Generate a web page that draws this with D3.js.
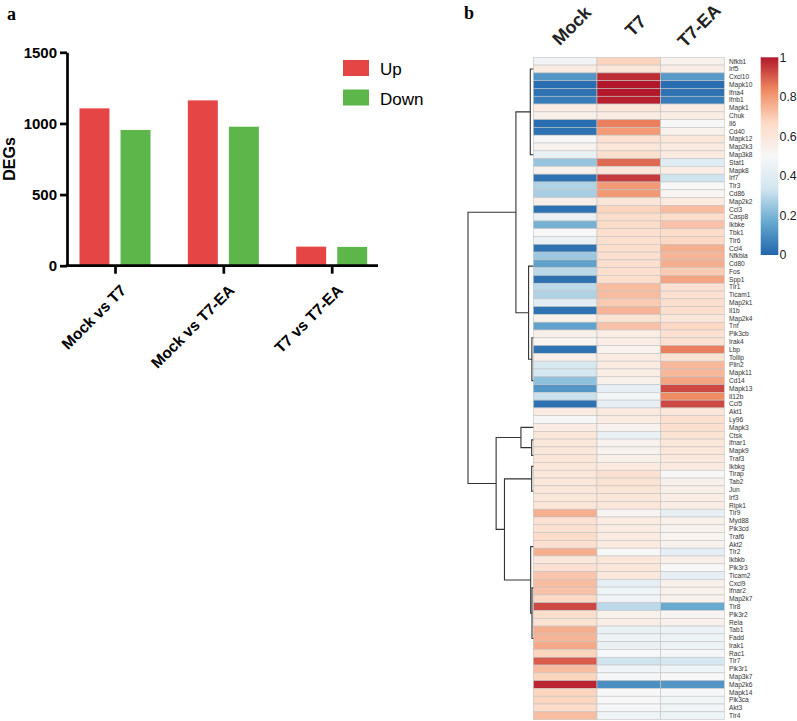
<!DOCTYPE html>
<html><head><meta charset="utf-8">
<script src="https://cdn.jsdelivr.net/npm/d3@7"></script>
<style>body{margin:0;background:#fff} svg{display:block}</style>
</head><body>
<svg id="chart" width="797" height="721"></svg>
<script>
// ---------- Panel a data ----------
const comparisons = ["Mock vs T7", "Mock vs T7-EA", "T7 vs T7-EA"];
const directions = ["Up", "Down"];
const upDEGs = [1106, 1162, 134];
const downDEGs = [954, 977, 132];
const degTicks = [0, 500, 1000, 1500];
const dirColors = ["#e64546", "#5db649"];

// ---------- Panel b data ----------
const samples = ["Mock", "T7", "T7-EA"];
const genes = ["Nfkb1","Irf5","Cxcl10","Mapk10","Ifna4","Ifnb1","Mapk1","Chuk","Il6","Cd40","Mapk12","Map2k3","Map3k8","Stat1","Mapk8","Irf7","Tlr3","Cd86","Map2k2","Ccl3","Casp8","Ikbke","Tbk1","Tlr6","Ccl4","Nfkbia","Cd80","Fos","Spp1","Tlr1","Ticam1","Map2k1","Il1b","Map2k4","Tnf","Pik3cb","Irak4","Lbp","Tollip","Plin2","Mapk11","Cd14","Mapk13","Il12b","Ccl5","Akt1","Ly96","Mapk3","Ctsk","Ifnar1","Mapk9","Traf3","Ikbkg","Tirap","Tab2","Jun","Irf3","Ripk1","Tlr9","Myd88","Pik3cd","Traf6","Akt2","Tlr2","Ikbkb","Pik3r3","Ticam2","Cxcl9","Ifnar2","Map2k7","Tlr8","Pik3r2","Rela","Tab1","Fadd","Irak1","Rac1","Tlr7","Pik3r1","Map3k7","Map2k6","Mapk14","Pik3ca","Akt3","Tlr4"];
const mockVals = [0.47,0.57,0.12,0.02,0.03,0.06,0.57,0.55,0.02,0.03,0.49,0.53,0.44,0.24,0.54,0.03,0.28,0.27,0.55,0.03,0.44,
  0.19,0.5,0.44,0.03,0.25,0.15,0.3,0.03,0.3,0.28,0.41,0.03,0.54,0.15,0.55,0.52,0.03,0.55,0.36,0.35,0.23,
  0.12,0.32,0.03,0.57,0.49,0.57,0.6,0.6,0.6,0.61,0.6,0.6,0.6,0.6,0.6,0.61,0.76,0.63,0.63,0.66,0.64,0.76,
  0.59,0.63,0.71,0.73,0.72,0.67,0.93,0.65,0.62,0.76,0.75,0.77,0.68,0.9,0.73,0.68,0.98,0.68,0.68,0.66,0.73];
const t7Vals = [0.68,0.6,0.97,1,1,0.99,0.6,0.57,0.85,0.8,0.63,0.6,0.64,0.88,0.6,0.95,0.8,0.8,0.6,0.68,0.65,
  0.66,0.64,0.64,0.65,0.64,0.64,0.64,0.65,0.73,0.73,0.7,0.75,0.62,0.72,0.56,0.56,0.53,0.57,0.57,0.56,0.55,
  0.42,0.48,0.43,0.58,0.57,0.53,0.44,0.53,0.53,0.55,0.58,0.63,0.62,0.61,0.6,0.6,0.52,0.57,0.57,0.57,0.58,0.5,
  0.6,0.6,0.59,0.42,0.46,0.47,0.3,0.54,0.56,0.44,0.46,0.44,0.5,0.33,0.47,0.49,0.1,0.5,0.5,0.49,0.47];
const t7eaVals = [0.53,0.56,0.13,0.02,0.03,0.06,0.57,0.56,0.5,0.54,0.6,0.58,0.58,0.4,0.56,0.33,0.5,0.52,0.58,0.73,0.66,
  0.72,0.66,0.67,0.76,0.75,0.76,0.7,0.78,0.63,0.63,0.64,0.65,0.6,0.67,0.63,0.63,0.85,0.62,0.74,0.74,0.78,
  0.93,0.83,0.93,0.6,0.64,0.64,0.62,0.6,0.6,0.59,0.58,0.5,0.54,0.55,0.56,0.56,0.43,0.55,0.53,0.52,0.53,0.42,
  0.55,0.5,0.43,0.54,0.54,0.53,0.17,0.52,0.54,0.45,0.46,0.45,0.49,0.35,0.46,0.5,0.12,0.49,0.48,0.47,0.46];
const colorbarTicks = [0, 0.2, 0.4, 0.6, 0.8, 1];
const paletteStops = [0, 1/6, 2/6, 0.5, 4/6, 5/6, 1];
const paletteColors = ["#2166ac","#67a9cf","#d1e5f0","#f7f7f7","#fddbc7","#ef8a62","#b2182b"];
// row dendrogram: h = merge height, r = leaf row position (row index)
const rowDendrogram = {h:65, children:[
  {h:17.3, children:[
    {h:3, children:[{r:1},{r:12}]},
    {h:4.7, children:[{r:26.3},{h:1.4, children:[{r:35.5},{r:41}]}]}
  ]},
  {h:37, children:[
    {h:12.3, children:[{r:47},{h:1.6, children:[{r:48.6},{r:50.6}]}]},
    {h:28.7, children:[
      {h:1.6, children:[{r:52},{r:55.2}]},
      {h:2.6, children:[{r:62.3},{h:1.3, children:[{r:67.6},{r:74.1}]}]}
    ]}
  ]}
]};

const svg = d3.select("#chart");
const sans = "'Liberation Sans', Arial, Helvetica, sans-serif";

// ================= Panel a =================
const gA = svg.append("g");
gA.append("text").attr("x", 7).attr("y", 20).text("a")
  .attr("font-family", "'Liberation Serif', 'Times New Roman', serif")
  .attr("font-weight", "bold").attr("font-size", 18);

const y = d3.scaleLinear().domain([0, 1500]).range([265.7, 52.3]);
const xGroup = d3.scalePoint().domain(comparisons).range([115, 331.7]);
const xDir = d3.scaleBand().domain(directions).range([-35.5, 35.5]).paddingInner(0.27);
const dirColor = d3.scaleOrdinal().domain(directions).range(dirColors);

const barData = [];
comparisons.forEach((c, i) => {
  barData.push({c, d: "Up", v: upDEGs[i]});
  barData.push({c, d: "Down", v: downDEGs[i]});
});
gA.selectAll("rect.bar").data(barData).join("rect").attr("class", "bar")
  .attr("x", d => xGroup(d.c) + xDir(d.d))
  .attr("width", xDir.bandwidth())
  .attr("y", d => y(d.v))
  .attr("height", d => y(0) - y(d.v))
  .attr("fill", d => dirColor(d.d));

const yAxis = gA.append("g").attr("transform", "translate(67,0)")
  .call(d3.axisLeft(y).tickValues(degTicks).tickFormat(d3.format("d"))
    .tickSize(7).tickSizeOuter(0).tickPadding(3));
yAxis.select(".domain").attr("stroke", "#000").attr("stroke-width", 2.7);
yAxis.selectAll(".tick line").attr("stroke", "#000").attr("stroke-width", 2.7);
yAxis.selectAll(".tick text").attr("font-family", sans).attr("font-weight", "bold")
  .attr("font-size", 15).attr("fill", "#000");

const xAxis = gA.append("g").attr("transform", `translate(0,${y(0)})`)
  .call(d3.axisBottom(xGroup).tickSize(8).tickSizeOuter(0).tickPadding(0));
xAxis.select(".domain").remove();
xAxis.append("line").attr("x1", 65.7).attr("x2", 378).attr("y1", 0).attr("y2", 0)
  .attr("stroke", "#000").attr("stroke-width", 2.7);
xAxis.selectAll(".tick line").attr("stroke", "#000").attr("stroke-width", 2.7);
xAxis.selectAll(".tick text")
  .attr("font-family", sans).attr("font-weight", "bold").attr("font-size", 15.5).attr("fill", "#000")
  .attr("text-anchor", "end").attr("dy", 0)
  .attr("transform", "translate(6,20) rotate(-45)");

gA.append("text").attr("transform", `translate(15,${y(750)}) rotate(-90)`)
  .attr("text-anchor", "middle").attr("font-family", sans).attr("font-weight", "bold")
  .attr("font-size", 16).text("DEGs");

const leg = gA.append("g").selectAll("g").data(directions).join("g")
  .attr("transform", (d, i) => `translate(343,${60 + i * 29.5})`);
leg.append("rect").attr("width", 26).attr("height", 16).attr("fill", d => dirColor(d));
leg.append("text").attr("x", 37).attr("y", 15).text(d => d)
  .attr("font-family", sans).attr("font-size", 17).attr("fill", "#000");

// ================= Panel b =================
const gB = svg.append("g");
gB.append("text").attr("x", 464).attr("y", 19).text("b")
  .attr("font-family", "'Liberation Serif', 'Times New Roman', serif")
  .attr("font-weight", "bold").attr("font-size", 18);

const xCol = d3.scaleBand().domain(samples).range([533.3, 724.3]);
const yRow = d3.scaleBand().domain(genes).range([57.3, 719.6]);
const color = d3.scaleLinear().domain(paletteStops).range(paletteColors);

const cells = [];
genes.forEach((g, i) => {
  cells.push({g, s: "Mock", v: mockVals[i]});
  cells.push({g, s: "T7", v: t7Vals[i]});
  cells.push({g, s: "T7-EA", v: t7eaVals[i]});
});
gB.selectAll("rect.cell").data(cells).join("rect").attr("class", "cell")
  .attr("x", d => xCol(d.s)).attr("y", d => yRow(d.g))
  .attr("width", xCol.bandwidth()).attr("height", yRow.bandwidth())
  .attr("fill", d => color(d.v)).attr("stroke", "#c4c4c4").attr("stroke-width", 0.6);

gB.selectAll("text.gene").data(genes).join("text").attr("class", "gene")
  .attr("x", 729).attr("y", d => yRow(d) + yRow.bandwidth() / 2).attr("dy", "0.35em")
  .attr("font-family", sans).attr("font-size", 6.6).attr("fill", "#333").text(d => d);

gB.selectAll("text.sample").data(samples).join("text").attr("class", "sample")
  .attr("transform", d => `translate(${xCol(d) + xCol.bandwidth() / 2 + 11},30) rotate(-45)`)
  .attr("text-anchor", "middle").attr("font-family", sans).attr("font-weight", "bold")
  .attr("font-size", 18).attr("fill", "#222").text(d => d);

// dendrogram
const xH = d3.scaleLinear().domain([0, 65]).range([533.3, 468]);
const yIdx = d3.scaleLinear().domain([-0.5, genes.length - 0.5]).range([57.3, 719.6]);
const root = d3.hierarchy(rowDendrogram);
root.eachAfter(n => {
  if (!n.children) { n.pos = n.data.r; n.hh = 0; }
  else { n.pos = d3.mean(n.children, c => c.pos); n.hh = n.data.h; }
});
const internal = root.descendants().filter(n => n.children);
gB.selectAll("path.dendro").data(internal).join("path").attr("class", "dendro")
  .attr("d", n => {
    const [a, b] = n.children;
    return `M${xH(a.hh)},${yIdx(a.pos)}H${xH(n.hh)}V${yIdx(b.pos)}H${xH(b.hh)}`;
  })
  .attr("fill", "none").attr("stroke", "#333").attr("stroke-width", 1.1);

// colorbar
const cbY = d3.scaleLinear().domain([0, 1]).range([255, 57.3]);
const grad = svg.append("defs").append("linearGradient").attr("id", "cbgrad")
  .attr("x1", 0).attr("x2", 0).attr("y1", 1).attr("y2", 0);
grad.selectAll("stop").data(paletteStops).join("stop")
  .attr("offset", d => d).attr("stop-color", d => color(d));
gB.append("rect").attr("x", 760.7).attr("y", cbY(1)).attr("width", 17.6)
  .attr("height", cbY(0) - cbY(1)).attr("fill", "url(#cbgrad)");
gB.selectAll("text.cbt").data(colorbarTicks).join("text").attr("class", "cbt")
  .attr("x", 779.5).attr("y", d => cbY(d)).attr("dy", "0.36em")
  .attr("font-family", sans).attr("font-size", 12.4).attr("fill", "#222").text(d => d);
</script>
</body></html>
